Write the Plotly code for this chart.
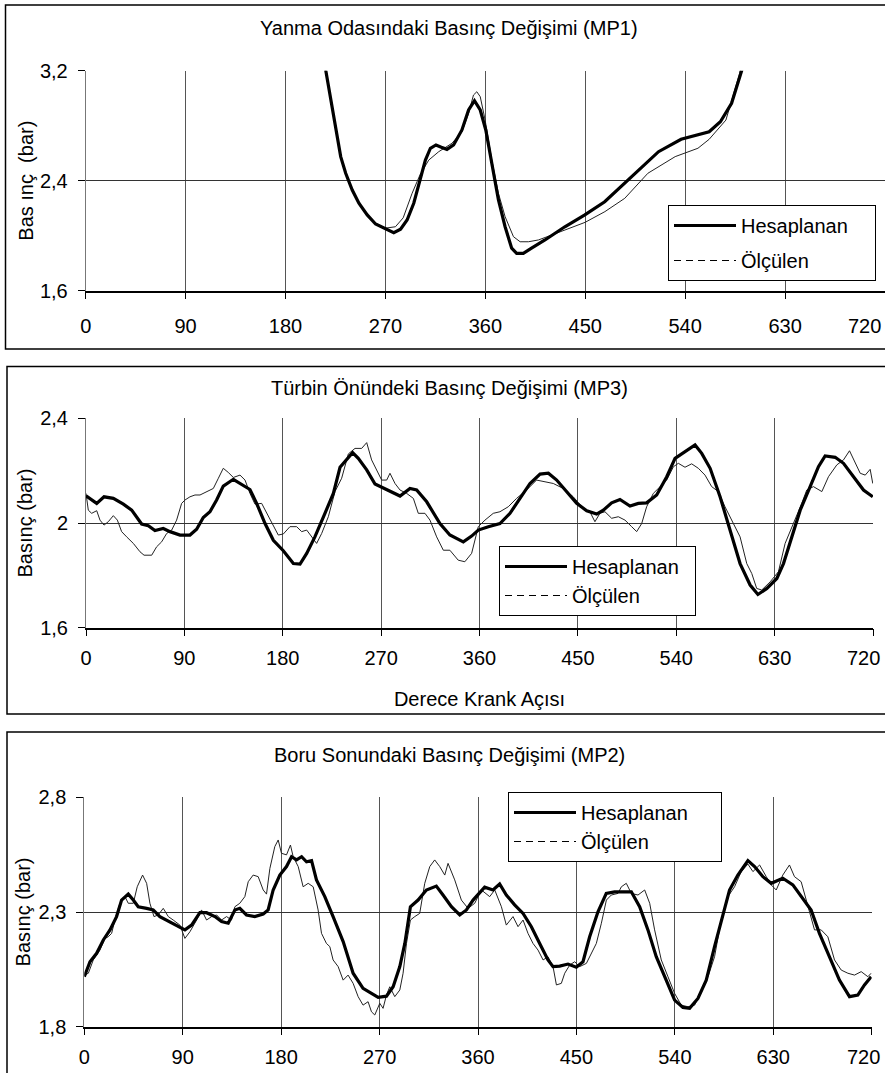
import plotly.graph_objects as go

# ---------------- data ----------------
deg_ticks = [0, 90, 180, 270, 360, 450, 540, 630, 720]
deg_labels = ["0", "90", "180", "270", "360", "450", "540", "630", "720"]

# Panel 1 : Yanma Odasındaki Basınç Değişimi (MP1)
p1_hes_x = [200, 208, 216.3, 220.7, 225.2, 229.7, 234.2, 240.1, 246.1, 253.6, 261.1, 270.1, 277.5, 283.6,
            289.5, 295.5, 301.5, 306, 310.5, 315.5, 320.3, 325.4, 331.4, 338.9, 344.9, 350.2, 355.4, 360.4,
            365.8, 371.8, 377.8, 383.7, 388.2, 394.2, 401.6, 413.7, 431.6, 449.6, 467.5, 485.5, 506.4, 516,
            536.3, 551.5, 561.6, 571.7, 581.8, 590.9, 598, 605]
p1_hes_y = [4.2, 3.6, 3.2, 2.987, 2.769, 2.575, 2.454, 2.332, 2.236, 2.151, 2.085, 2.047, 2.022, 2.047,
            2.114, 2.236, 2.405, 2.55, 2.636, 2.66, 2.643, 2.628, 2.66, 2.769, 2.914, 2.982, 2.914, 2.769,
            2.527, 2.26, 2.065, 1.909, 1.872, 1.872, 1.909, 1.969, 2.065, 2.151, 2.247, 2.381, 2.538, 2.611,
            2.701, 2.732, 2.756, 2.829, 2.963, 3.2, 3.45, 3.75]
p1_olc_x = [200, 208, 216.3, 220.7, 225.2, 229.7, 234.2, 240.1, 246.1, 253.6, 261.1, 270.1, 279, 286,
            294, 301, 309, 318, 329.9, 338.9, 344.9, 349.3, 352.3, 355.4, 359.8, 365.8, 371.8, 377.8,
            385.3, 391.3, 398.8, 407.8, 419.8, 431.8, 449.8, 467.7, 485.6, 506.4, 531, 551.5, 561.6,
            576.7, 584.4, 589, 594, 600]
p1_olc_y = [4.2, 3.6, 3.2, 2.987, 2.769, 2.575, 2.454, 2.332, 2.236, 2.151, 2.09, 2.055, 2.065, 2.13,
            2.308, 2.44, 2.55, 2.611, 2.672, 2.756, 2.89, 3.023, 3.047, 3.011, 2.841, 2.55, 2.308, 2.138,
            1.993, 1.956, 1.956, 1.969, 2.005, 2.041, 2.097, 2.175, 2.272, 2.454, 2.575, 2.636, 2.701,
            2.841, 3.06, 3.18, 3.4, 3.7]

# Panel 2 : Türbin Önündeki Basınç Değişimi (MP3)
p2_hes_x = [0, 9.8, 16.5, 25, 34.2, 41.8, 50.9, 57, 63.1, 70.7, 76.8, 86, 95.1, 101.2, 107.3, 113.4,
            119.5, 125.6, 134.8, 140.9, 150, 156.1, 163.8, 171.4, 180.5, 189.7, 195.8, 201.9, 209.5,
            218.6, 226.3, 232.4, 238.5, 243.9, 249.1, 256.8, 264.4, 275.1, 287.3, 296.4, 302.5, 311.7,
            323.8, 332.9, 345.2, 352.8, 358.9, 368.1, 378.7, 387.9, 397, 406.2, 415.4, 423, 430.6, 439.8,
            448.9, 458.1, 467.2, 473.3, 480.9, 488.5, 497.7, 505.3, 512.9, 522.1, 531.3, 538.9, 546.6,
            552.7, 557.2, 563.3, 571, 580.1, 589.3, 598.4, 607.6, 614.7, 622.9, 632, 638.1, 645.7, 653.4,
            662.5, 670.1, 676.2, 685.4, 693, 702.2, 711.3, 719.8]
p2_hes_y = [2.104, 2.075, 2.1, 2.094, 2.072, 2.049, 1.996, 1.99, 1.971, 1.979, 1.967, 1.954, 1.954,
            1.976, 2.021, 2.043, 2.088, 2.141, 2.167, 2.151, 2.128, 2.075, 1.998, 1.934, 1.894, 1.845,
            1.843, 1.884, 1.948, 2.037, 2.113, 2.213, 2.241, 2.269, 2.247, 2.203, 2.149, 2.126, 2.103,
            2.132, 2.126, 2.081, 1.998, 1.954, 1.928, 1.95, 1.973, 1.986, 1.998, 2.037, 2.094, 2.151,
            2.187, 2.19, 2.164, 2.12, 2.075, 2.047, 2.034, 2.049, 2.077, 2.09, 2.065, 2.075, 2.077, 2.107,
            2.177, 2.247, 2.269, 2.285, 2.298, 2.266, 2.209, 2.1, 1.973, 1.845, 1.763, 1.727, 1.75, 1.788,
            1.845, 1.947, 2.049, 2.139, 2.215, 2.256, 2.251, 2.228, 2.177, 2.126, 2.1]
p2_olc_x = [0, 2.1, 5.2, 9.8, 12.8, 16.5, 20.4, 25, 28.7, 32.6, 37.2, 43.3, 49.4, 53.1, 60.1, 64.6, 69.2,
            73.8, 78.4, 82.9, 87.5, 90.6, 95.1, 99.7, 104.3, 110.4, 116.5, 121.1, 125.6, 130.2, 134.8,
            140.9, 145.5, 150, 154.6, 160.7, 165.3, 171.4, 175.9, 180.5, 186.6, 192.7, 197.3, 201.9,
            206.4, 211, 215.6, 221.7, 227.8, 233.9, 240, 246.1, 252.2, 256.8, 261.3, 265.9, 270.5, 275.1,
            278.1, 282.7, 287.3, 293.4, 299.5, 304, 310.1, 314.7, 320.8, 326.9, 332.9, 340.5, 346.6,
            352.8, 358.9, 365, 372.6, 378.7, 386.3, 393.9, 403.1, 412.2, 419.8, 427.5, 436.6, 445.8,
            454.9, 461, 465.6, 470.2, 474.8, 480.9, 487, 493.1, 499.2, 503.8, 508.4, 512.9, 519, 525.1,
            531.3, 537.4, 541.9, 548, 554.1, 560.2, 566.3, 572.4, 578.5, 584.6, 590.7, 598.4, 604.5,
            609.1, 613.6, 618.2, 625.9, 633.5, 639.6, 644.2, 650.3, 654.8, 659.4, 665.5, 673.2, 679.3,
            686.9, 693, 698.5, 703.7, 708.3, 712.9, 717.4, 719.8]
p2_olc_y = [2.113, 2.049, 2.037, 2.047, 2.011, 1.992, 2.005, 2.028, 2.011, 1.967, 1.947, 1.922, 1.89,
            1.877, 1.877, 1.909, 1.928, 1.96, 1.973, 2.011, 2.075, 2.088, 2.1, 2.107, 2.107, 2.12, 2.132,
            2.171, 2.209, 2.193, 2.174, 2.183, 2.164, 2.113, 2.072, 2.075, 2.037, 1.986, 1.954, 1.958,
            1.986, 1.986, 1.967, 1.973, 1.947, 1.922, 1.96, 2.024, 2.12, 2.171, 2.264, 2.285, 2.285,
            2.307, 2.241, 2.203, 2.164, 2.164, 2.19, 2.151, 2.126, 2.113, 2.094, 2.037, 2.037, 2.011,
            1.947, 1.896, 1.896, 1.858, 1.852, 1.884, 1.986, 2.011, 2.037, 2.043, 2.062, 2.094, 2.126,
            2.164, 2.158, 2.151, 2.132, 2.1, 2.056, 2.043, 2.005, 2.037, 2.043, 2.018, 2.024, 2.011, 1.986,
            1.967, 1.998, 2.062, 2.113, 2.139, 2.164, 2.215, 2.228, 2.213, 2.226, 2.209, 2.183, 2.139,
            2.12, 2.062, 2.011, 1.947, 1.845, 1.807, 1.75, 1.744, 1.775, 1.814, 1.922, 1.967, 2.024,
            2.075, 2.126, 2.139, 2.12, 2.177, 2.222, 2.241, 2.276, 2.228, 2.19, 2.183, 2.205, 2.151]

# Panel 3 : Boru Sonundaki Basınç Değişimi (MP2)
p3_hes_x = [0, 5.2, 11.3, 17.4, 23.5, 29.5, 34.1, 40.2, 44.8, 49.3, 57, 63, 69.1, 78.3, 85.9, 92, 98.1,
            105.7, 111.8, 119.4, 125.5, 131.6, 137.7, 142.2, 148.3, 155.9, 163.6, 168.1, 172.7, 178.8,
            184.9, 189.5, 194.1, 198.7, 203.2, 207.8, 212.3, 219.9, 227.5, 236.7, 245.8, 254.9, 262.6,
            268.7, 276.3, 282.4, 288.5, 293.1, 298.2, 305.2, 312.8, 321.9, 328, 335.7, 343.3, 349.4,
            355.5, 366.1, 373.7, 379.8, 385.9, 393.5, 401.2, 408.8, 416.4, 424, 428.6, 434.7, 442.3,
            449.9, 456, 462.1, 469.7, 477.3, 484.9, 492.5, 500.2, 507.8, 515.4, 523, 530.6, 539.8, 547.4,
            553.5, 561.1, 568.7, 576.3, 583.9, 590, 597.6, 606.8, 612.9, 620.5, 628.1, 638.7, 647.9, 657,
            664.6, 672.2, 681.4, 690.5, 699.7, 707.3, 713.4, 719.5]
p3_hes_y = [2.018, 2.083, 2.12, 2.178, 2.222, 2.28, 2.352, 2.378, 2.352, 2.323, 2.316, 2.309, 2.28,
            2.258, 2.236, 2.222, 2.243, 2.297, 2.297, 2.28, 2.258, 2.251, 2.309, 2.316, 2.287, 2.28,
            2.291, 2.309, 2.396, 2.461, 2.498, 2.541, 2.527, 2.541, 2.519, 2.524, 2.44, 2.367, 2.28,
            2.171, 2.033, 1.967, 1.945, 1.928, 1.933, 1.974, 2.062, 2.163, 2.323, 2.352, 2.396, 2.413,
            2.374, 2.323, 2.287, 2.309, 2.352, 2.408, 2.396, 2.422, 2.374, 2.331, 2.294, 2.236, 2.163,
            2.091, 2.062, 2.064, 2.073, 2.059, 2.083, 2.192, 2.301, 2.381, 2.388, 2.388, 2.388, 2.323,
            2.222, 2.105, 2.018, 1.916, 1.884, 1.88, 1.923, 2.003, 2.149, 2.28, 2.396, 2.461, 2.524,
            2.498, 2.454, 2.425, 2.447, 2.418, 2.36, 2.309, 2.207, 2.105, 2.003, 1.931, 1.938, 1.982,
            2.018]
p3_olc_x = [0, 3.7, 8.2, 14.3, 18.9, 21.9, 25, 28, 32.6, 37.2, 40.2, 44.8, 48.4, 53.3, 57, 60, 63.7,
            67.6, 72.2, 76.8, 81.3, 87.4, 92, 96.6, 102.7, 107.2, 111.8, 116.4, 121, 125.5, 130.1, 134.6,
            137.7, 142.2, 146.8, 149.9, 154.4, 159, 163.6, 166.6, 169.7, 174.2, 177.3, 180.3, 184.9,
            188.5, 191, 195.6, 200.1, 204.7, 209.3, 213.8, 216.9, 221.4, 224.5, 227.5, 232.1, 236.7,
            241.2, 245.8, 250.4, 254.9, 259.5, 262.6, 265.6, 270.2, 273.2, 276.3, 279.3, 283.9, 288.5,
            291.5, 294.6, 298.2, 302.2, 306.7, 311.3, 315.9, 320.4, 325, 329.6, 332.6, 338.7, 344.8,
            350.9, 357, 363.1, 370.7, 375.3, 381.4, 385.9, 392, 396.6, 401.2, 405.7, 410.3, 414.9, 419.5,
            424, 428.6, 431.7, 436.2, 439.3, 443.9, 448.4, 453, 459.1, 463.7, 468.2, 472.8, 477.4, 481.9,
            488, 491.1, 495.6, 500.2, 506.3, 512.4, 517, 521.5, 527.6, 533.7, 539.8, 545.9, 552, 558.1,
            564.2, 570.3, 576.3, 582.4, 588.5, 594.6, 600.7, 606.8, 611.4, 617.5, 623.6, 628.1, 632.7,
            638.7, 644.8, 649.4, 655.5, 661.6, 667.7, 673.8, 679.9, 686, 692.1, 698.2, 704.3, 710.4,
            716.5, 719.5]
p3_olc_y = [2.025, 2.033, 2.091, 2.134, 2.185, 2.192, 2.207, 2.265, 2.338, 2.367, 2.338, 2.338, 2.41,
            2.461, 2.425, 2.338, 2.28, 2.287, 2.316, 2.28, 2.265, 2.243, 2.185, 2.214, 2.265, 2.309,
            2.265, 2.28, 2.287, 2.265, 2.28, 2.265, 2.323, 2.338, 2.367, 2.432, 2.461, 2.454, 2.396,
            2.378, 2.49, 2.585, 2.614, 2.556, 2.549, 2.592, 2.541, 2.498, 2.41, 2.425, 2.41, 2.309, 2.207,
            2.163, 2.149, 2.091, 2.062, 2.003, 2.025, 1.989, 1.931, 1.894, 1.909, 1.865, 1.851, 1.902,
            1.88, 1.938, 1.974, 1.931, 1.96, 2.033, 2.163, 2.265, 2.28, 2.294, 2.425, 2.498, 2.527, 2.498,
            2.461, 2.512, 2.44, 2.352, 2.316, 2.338, 2.396, 2.367, 2.396, 2.323, 2.243, 2.28, 2.236,
            2.265, 2.207, 2.163, 2.134, 2.091, 2.105, 2.062, 1.982, 1.989, 2.033, 2.069, 2.083, 2.062,
            2.076, 2.12, 2.163, 2.251, 2.352, 2.374, 2.381, 2.41, 2.425, 2.381, 2.374, 2.396, 2.338,
            2.222, 2.091, 2.018, 1.945, 1.894, 1.887, 1.894, 1.953, 2.018, 2.105, 2.265, 2.367, 2.41,
            2.476, 2.509, 2.476, 2.505, 2.454, 2.418, 2.396, 2.461, 2.505, 2.454, 2.432, 2.323, 2.222,
            2.222, 2.192, 2.091, 2.047, 2.033, 2.025, 2.04, 2.018, 2.033]

titles = ["Yanma Odasındaki Basınç Değişimi (MP1)",
          "Türbin Önündeki Basınç Değişimi (MP3)",
          "Boru Sonundaki Basınç Değişimi (MP2)"]
y_titles = ["Bas ınç  (bar)", "Basınç (bar)", "Basınç (bar)"]
x_title_p2 = "Derece Krank Açısı"
y_ticks = [[1.6, 2.4, 3.2], [1.6, 2.0, 2.4], [1.8, 2.3, 2.8]]
y_labels = [["1,6", "2,4", "3,2"], ["1,6", "2", "2,4"], ["1,8", "2,3", "2,8"]]
series_names = ["Hesaplanan", "Ölçülen"]

# ---------------- layout helpers ----------------
W, H = 885, 1073
FONT = "Liberation Sans, Arial, sans-serif"
NB = "\u00a0"


def px_x(v):
    return v / W


def px_y(v):
    return (H - v) / H


panels = [
    dict(xd=(85.7, 885), yd=(290.7, 70.7), std=10, leg=(668, 205), pad=4, gap=6,
         box=(5.5, 5, 349), ytstd=0, lastshift=(-2, -35.3)),
    dict(xd=(86, 873), yd=(627.7, 418.3), std=5, leg=(499, 546), pad=2, gap=0,
         box=(7, 366.5, 714), ytstd=2, lastshift=(9, -30.5)),
    dict(xd=(84.3, 871.7), yd=(1026.7, 797.3), std=5, leg=(508, 792), pad=5, gap=0,
         box=(7, 732, 1090), ytstd=2, lastshift=(10, -30.5)),
]

data = [
    (p1_hes_x, p1_hes_y, p1_olc_x, p1_olc_y),
    (p2_hes_x, p2_hes_y, p2_olc_x, p2_olc_y),
    (p3_hes_x, p3_hes_y, p3_olc_x, p3_olc_y),
]

fig = go.Figure()
layout = dict(width=W, height=H, margin=dict(l=0, r=0, t=0, b=0, autoexpand=False),
              paper_bgcolor="white", plot_bgcolor="white",
              font=dict(family=FONT, size=20, color="black"),
              shapes=[], annotations=[])

for i, (p, d) in enumerate(zip(panels, data)):
    n = "" if i == 0 else str(i + 1)
    xa, ya = "x" + n, "y" + n
    leg = "legend" + n
    hx, hy, ox, oy = d
    # measured (thin) line
    fig.add_trace(go.Scatter(x=ox, y=oy, xaxis=xa, yaxis=ya, mode="lines",
                             line=dict(color="#222", width=1), showlegend=False,
                             hoverinfo="skip"))
    # calculated (thick) line
    fig.add_trace(go.Scatter(x=hx, y=hy, xaxis=xa, yaxis=ya, mode="lines",
                             line=dict(color="black", width=3.2),
                             name=series_names[0] + NB * p["pad"], legend=leg,
                             legendgroup="h" + n, showlegend=True))
    # legend sample for the measured series (dashed in the legend)
    fig.add_trace(go.Scatter(x=[None], y=[None], xaxis=xa, yaxis=ya, mode="lines",
                             line=dict(color="black", width=1, dash="7px,5px"),
                             name=series_names[1], legend=leg,
                             legendgroup="o" + n, showlegend=True))

    # last tick label (720) is drawn pulled left so that it stays inside the page
    ticktext = list(deg_labels)
    ticktext[-1] = ""
    layout["annotations"].append(dict(text=deg_labels[-1], x=deg_ticks[-1], y=y_ticks[i][0],
                                      xref=xa, yref=ya, showarrow=False,
                                      xanchor="right", yanchor="middle",
                                      xshift=p["lastshift"][0], yshift=p["lastshift"][1],
                                      font=dict(size=20)))
    layout["xaxis" + n] = dict(
        domain=[px_x(p["xd"][0]), px_x(p["xd"][1])], range=[0, 720],
        anchor=ya, tickvals=deg_ticks, ticktext=ticktext, automargin=False,
        showgrid=True, gridcolor="#555555", gridwidth=1, zeroline=False,
        showline=True, linecolor="black", linewidth=1.5,
        ticks="outside", ticklen=7, tickcolor="black", tickwidth=1,
        ticklabelstandoff=p["std"], tickfont=dict(size=20),
        fixedrange=True)
    if i == 1:
        layout["xaxis" + n]["title"] = dict(text=x_title_p2, font=dict(size=20), standoff=24)
    layout["yaxis" + n] = dict(
        domain=[px_y(p["yd"][0]), px_y(p["yd"][1])],
        range=[y_ticks[i][0], y_ticks[i][-1]], anchor=xa, automargin=False,
        tickvals=y_ticks[i], ticktext=y_labels[i],
        showgrid=True, gridcolor="#333333", gridwidth=1, zeroline=False,
        showline=True, linecolor="#777", linewidth=1,
        ticks="outside", ticklen=7, tickcolor="black", tickwidth=1,
        ticklabelstandoff=6, tickfont=dict(size=20),
        title=dict(text=y_titles[i], font=dict(size=20), standoff=p["ytstd"]),
        fixedrange=True)
    layout[leg] = dict(x=px_x(p["leg"][0]), y=px_y(p["leg"][1]),
                       xanchor="left", yanchor="top",
                       bordercolor="black", borderwidth=1, bgcolor="white",
                       font=dict(size=20, family=FONT), itemwidth=62,
                       traceorder="grouped", tracegroupgap=p["gap"])
    bx0, by0, by1 = p["box"]
    layout["shapes"].append(dict(type="rect", xref="paper", yref="paper",
                                 x0=px_x(bx0), x1=1.2, y0=px_y(by1), y1=px_y(by0),
                                 line=dict(color="black", width=1.5), layer="above"))
    title_y = [28, 388, 755][i]
    layout["annotations"].append(dict(text=titles[i], x=px_x(449), y=px_y(title_y),
                                      xref="paper", yref="paper", showarrow=False,
                                      xanchor="center", yanchor="middle",
                                      font=dict(size=20)))

fig.update_layout(**layout)
fig.write_html("out.html")
